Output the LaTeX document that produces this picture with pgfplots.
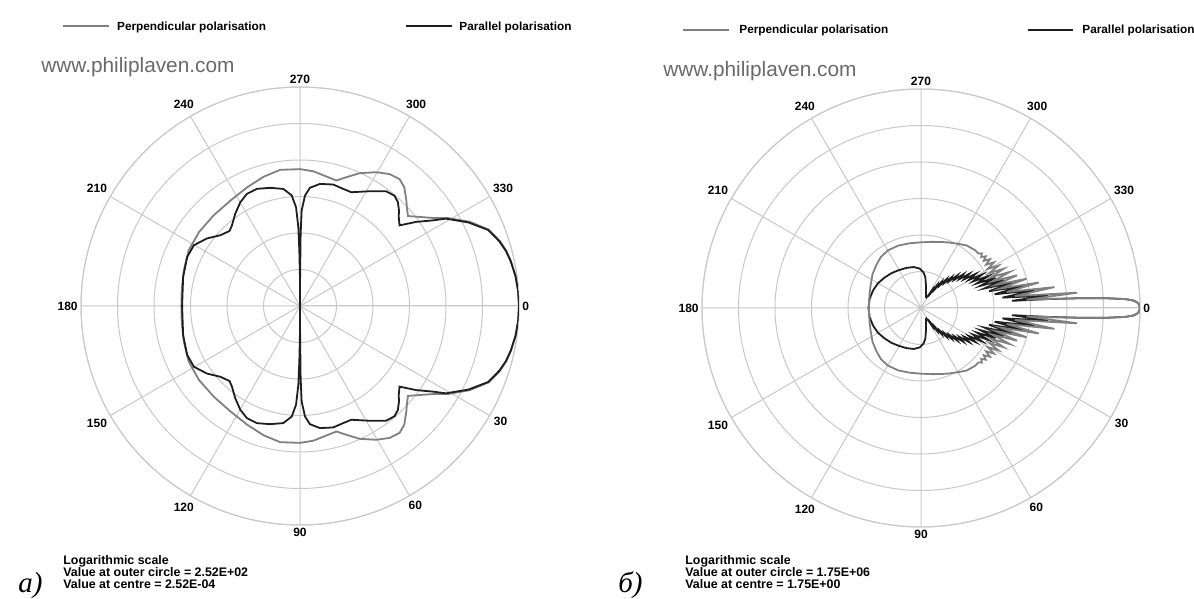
\documentclass[border=0pt]{standalone}
\usepackage{fontspec}
\setmainfont{Liberation Sans}
\newfontfamily\serifit{Liberation Serif}
\usepackage{pgfplots}
\usepgfplotslibrary{polar}
\pgfplotsset{compat=1.18}
\usepackage{pgfplotstable}

\definecolor{gridgray}{RGB}{200,200,200}
\definecolor{perpgray}{RGB}{128,128,128}
\definecolor{pardark}{RGB}{30,30,30}
\definecolor{webgray}{RGB}{105,105,105}

% radius in decades above the centre value (6 rings = 6 decades)
% a) perpendicular
\pgfplotstableread{
a r
0 6.00
4 5.99
8 5.96
12 5.91
15 5.85
18 5.76
22 5.58
26.4 5.19
30.9 4.70
33 4.42
35.9 4.15
39.8 3.85
42.8 3.99
44.7 4.10
48.7 4.33
51.9 4.42
55.8 4.37
60.3 4.22
65.8 3.99
70.2 3.75
73.8 3.58
78.4 3.62
84.4 3.71
90 3.75
98.3 3.77
105.7 3.68
114 3.56
123.4 3.46
133.6 3.43
143.8 3.43
153.4 3.41
162.9 3.33
172.3 3.27
180 3.25
}\perpA
% a) parallel
\pgfplotstableread{
a r
0 6.00
4 5.99
8 5.96
12 5.90
15 5.84
18 5.74
22 5.56
26.4 5.15
30.9 4.66
32.8 4.33
35.9 3.93
39 3.51
42 3.64
44 3.77
46.7 3.91
49.4 3.98
53.1 3.93
58.7 3.68
65.7 3.42
69.8 3.42
74.7 3.45
80.7 3.39
85.2 3.25
87.4 3.03
89 2.62
89.5 1.98
89.9 0.62
90 0
90.1 0.80
90.7 1.53
91.2 2.16
92.3 2.71
94.3 3.04
98.1 3.24
104.2 3.34
110.2 3.42
115.3 3.40
119.9 3.28
125 3.09
130.2 2.89
133.2 2.82
138.4 2.92
144 3.15
150.2 3.35
156.5 3.37
166 3.30
180 3.23
}\parA
% b) perpendicular
\pgfplotstableread{
a r
0 6.00
1 5.97
1.5 5.92
2 5.83
2.5 5.60
3 5.10
3.5 4.40
4 3.60
4.5 2.90
5.6 4.30
7.25 2.60
8.9 3.70
10.55 2.40
12.2 3.30
13.85 2.25
15.5 3.00
17.15 2.15
18.8 2.78
20.45 2.10
22.1 2.62
23.75 2.10
25.4 2.50
27.05 2.10
28.7 2.42
30.35 2.12
32 2.36
33.65 2.14
35.3 2.31
36.95 2.15
38.6 2.27
40.25 2.16
41.9 2.24
43.5 2.17
47 2.17
54 2.12
60 2.03
66 1.96
72 1.90
80 1.84
90 1.80
100 1.80
110 1.82
120 1.82
128 1.78
136 1.70
145 1.62
155 1.52
165 1.46
180 1.43
}\perpB
% b) parallel
\pgfplotstableread{
a r
0 6.00
1 5.97
1.5 5.92
2 5.83
2.5 5.60
3 5.10
3.5 4.40
4 3.50
4.5 2.50
5.6 3.50
7.25 2.25
8.9 3.15
10.55 2.05
12.2 2.85
13.85 1.92
15.5 2.60
17.15 1.82
18.8 2.40
20.45 1.74
22.1 2.20
23.75 1.67
25.4 2.04
27.05 1.60
28.7 1.90
30.35 1.52
32 1.76
33.65 1.42
35.3 1.62
36.95 1.32
38.6 1.48
40.25 1.20
41.9 1.34
43.55 1.07
45.2 1.19
46.85 0.95
48.5 1.05
50.15 0.82
51.8 0.90
53.45 0.66
55.1 0.74
56.75 0.50
58.4 0.56
60 0.38
63 0.32
66 0.33
72 0.45
78 0.65
82 0.85
86 0.98
92 1.08
100 1.14
110 1.17
120 1.20
130 1.25
140 1.30
150 1.36
160 1.40
170 1.43
180 1.44
}\parB

\pgfplotsset{
  mieplot/.style={
    scale only axis, width=219pt, height=219pt,
    ymin=0, ymax=6, ytick={1,...,6}, yticklabels={},
    xtick={0,30,...,330},
    xticklabels={0,330,300,270,240,210,180,150,120,90,60,30},
    grid=major, major grid style={gridgray, line width=0.5pt},
    axis line style={gridgray, line width=0.5pt},
    major tick length=0pt,
    xticklabel style={font=\fontsize{6}{7}\selectfont\bfseries, inner sep=1.5pt},
    anchor=center,
  },
  perp/.style={perpgray, line width=0.9pt, no markers},
  par/.style={pardark, line width=0.9pt, no markers},
}

\newcommand{\legfont}{\fontsize{5.9}{7}\selectfont\bfseries}
\newcommand{\notefont}{\fontsize{6.2}{7}\selectfont\bfseries}

\begin{document}
\begin{tikzpicture}
\path[use as bounding box] (0,0) rectangle (597pt,299.5pt);

% panel a)
\begin{polaraxis}[mieplot, at={(150pt,146.5pt)}]
  \addplot[perp] table[x=a, y=r] {\perpA};
  \addplot[perp] table[x expr=-\thisrow{a}, y=r] {\perpA};
  \addplot[par] table[x=a, y=r] {\parA};
  \addplot[par] table[x expr=-\thisrow{a}, y=r] {\parA};
\end{polaraxis}

% panel b)
\begin{polaraxis}[mieplot, at={(460.5pt,145.5pt)}]
  \addplot[par] table[x=a, y=r] {\parB};
  \addplot[par] table[x expr=-\thisrow{a}, y=r] {\parB};
  \addplot[perp] table[x=a, y=r] {\perpB};
  \addplot[perp] table[x expr=-\thisrow{a}, y=r] {\perpB};
\end{polaraxis}

% legends
\draw[perpgray, line width=1pt] (31.5pt,286.5pt) -- (54.5pt,286.5pt);
\node[anchor=base west, inner sep=0, font=\legfont] at (58.4pt,284.3pt) {Perpendicular polarisation};
\draw[pardark, line width=1pt] (202.9pt,286.5pt) -- (225.8pt,286.5pt);
\node[anchor=base west, inner sep=0, font=\legfont] at (229.5pt,284.3pt) {Parallel polarisation};

\draw[perpgray, line width=1pt] (341.5pt,284.7pt) -- (364.5pt,284.7pt);
\node[anchor=base west, inner sep=0, font=\legfont] at (369.5pt,282.5pt) {Perpendicular polarisation};
\draw[pardark, line width=1pt] (514pt,284.7pt) -- (536.5pt,284.7pt);
\node[anchor=base west, inner sep=0, font=\legfont] at (541pt,282.5pt) {Parallel polarisation};

% site names
\node[anchor=west, inner sep=0, text=webgray, font=\fontsize{10.4}{12}\selectfont] at (20.5pt,266pt) {www.philiplaven.com};
\node[anchor=west, inner sep=0, text=webgray, font=\fontsize{10.4}{12}\selectfont] at (331.5pt,263.8pt) {www.philiplaven.com};

% notes
\node[anchor=base west, inner sep=0, font=\notefont] at (31.5pt,17pt) {Logarithmic scale};
\node[anchor=base west, inner sep=0, font=\notefont] at (31.5pt,11.2pt) {Value at outer circle = 2.52E+02};
\node[anchor=base west, inner sep=0, font=\notefont] at (31.5pt,5.4pt) {Value at centre = 2.52E-04};
\node[anchor=base west, inner sep=0, font=\notefont] at (342.5pt,17pt) {Logarithmic scale};
\node[anchor=base west, inner sep=0, font=\notefont] at (342.5pt,11.2pt) {Value at outer circle = 1.75E+06};
\node[anchor=base west, inner sep=0, font=\notefont] at (342.5pt,5.4pt) {Value at centre = 1.75E+00};

\node[anchor=base west, inner sep=0, font=\serifit\itshape\fontsize{14.5}{16}\selectfont] at (9pt,3.2pt) {a)};
\node[anchor=base west, inner sep=0, font=\serifit\itshape\fontsize{14.5}{16}\selectfont] at (309pt,3.2pt) {б)};
\end{tikzpicture}
\end{document}
